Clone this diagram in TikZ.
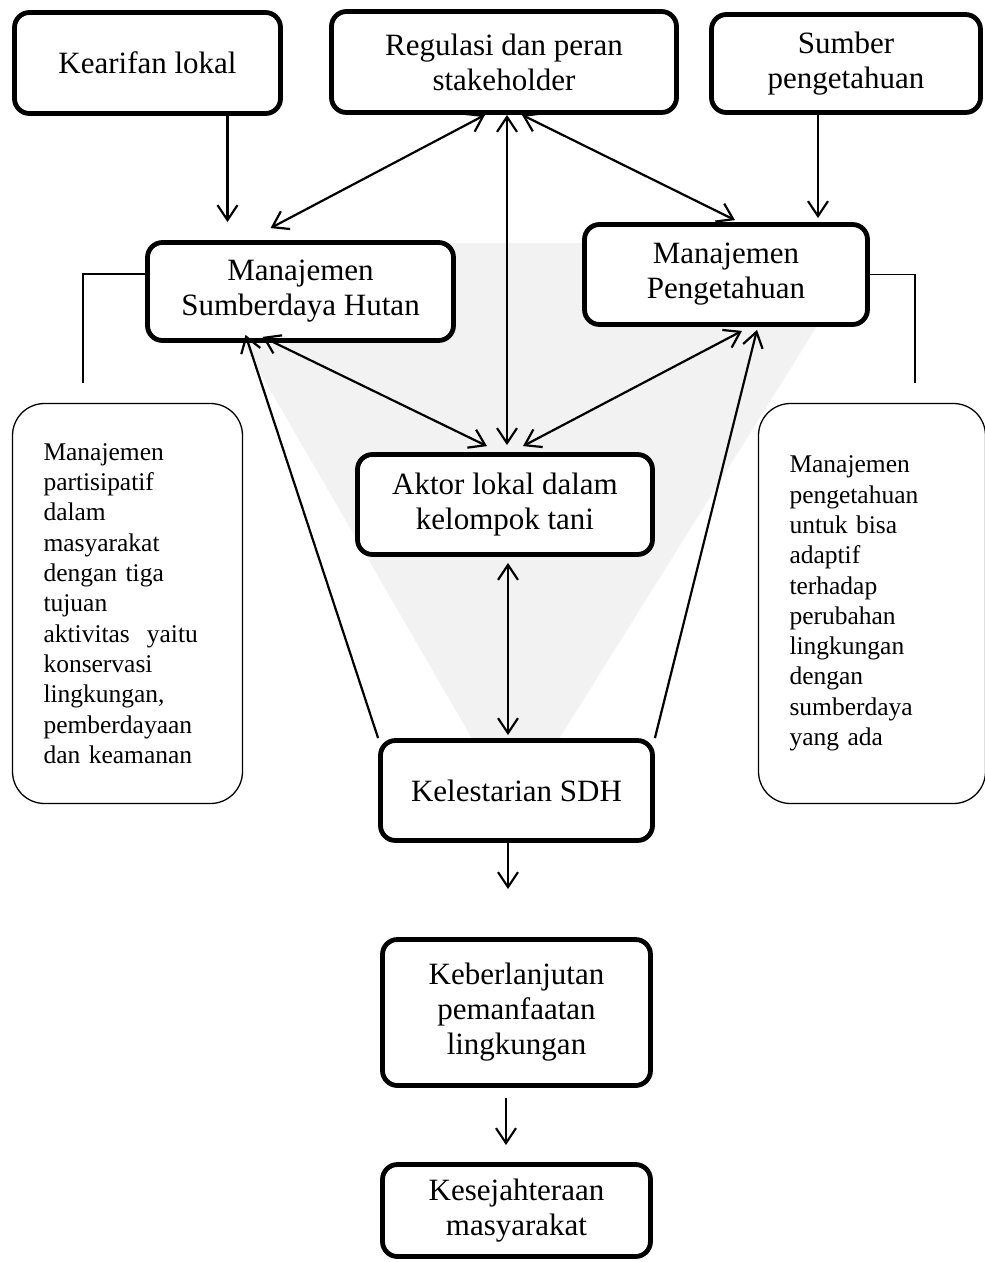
\documentclass[tikz,border=0pt]{standalone}
\usepackage{fontspec}
\setmainfont{Liberation Serif}
\usetikzlibrary{arrows.meta,positioning}
\definecolor{funnelgrey}{HTML}{F2F2F2}

\tikzset{barb/.tip={Straight Barb[length=15pt,width=20pt]}}

\begin{document}
\begin{tikzpicture}[x=1pt,y=-1pt,
        box/.style={draw, line width=4.8pt, rounded corners=15pt, fill=white,
            align=center, inner sep=0pt, font=\fontsize{31}{35}\selectfont},
        note/.style={draw, line width=1.3pt, rounded corners=32pt, fill=white,
            align=left, inner ysep=0pt, inner xsep=31pt, minimum height=400pt,
            font=\fontsize{25.5}{30.3}\selectfont},
        link/.style={line width=2.2pt, -barb},
        both/.style={line width=2.2pt, barb-barb},
        bracket/.style={line width=1.6pt}]

            \useasboundingbox (0,0) rectangle (985,1262);
            \clip (0,0) rectangle (985,1262);

            % grey funnel behind the middle
            \fill[funnelgrey] (185,243) -- (869,243) -- (514,811) -- cycle;

            \node[box, minimum width=266pt, minimum height=101pt] (kearifan) at (147.5,63) {Kearifan lokal};
            \node[box, minimum width=345pt, minimum height=101pt] (regulasi) at (504,62) {Regulasi dan peran\\stakeholder};
            \node[box, minimum width=269pt, minimum height=98pt] (sumber) at (846,63.5) {Sumber\\pengetahuan};

            \node[box, minimum width=306pt, minimum height=98pt] (msh) at (300.5,291.5) {Manajemen\\Sumberdaya Hutan};
            \node[box, minimum width=283pt, minimum height=100pt] (mp) at (726,274.5) {Manajemen\\Pengetahuan};

            \node[box, minimum width=295pt, minimum height=100pt] (aktor) at (505,504.5) {Aktor lokal dalam\\kelompok tani};
            \node[box, minimum width=272pt, minimum height=100pt] (kelestarian) at (516.5,790.5) {Kelestarian SDH};
            \node[box, minimum width=268pt, minimum height=146pt] (keberlanjutan) at (516.5,1012.5) {Keberlanjutan\\pemanfaatan\\lingkungan};
            \node[box, minimum width=268pt, minimum height=92pt] (kesejahteraan) at (516.5,1210.5) {Kesejahteraan\\masyarakat};

            \node[note, text width=168pt] (partisipatif) at (127.5,603.5) {Manajemen\\partisipatif\\dalam\\masyarakat\\dengan tiga\\tujuan\\aktivitas\ \ yaitu\\konservasi\\lingkungan,\\pemberdayaan\\dan keamanan};
            \node[note, text width=165pt] (adaptif) at (872,603.5) {Manajemen\\pengetahuan\\untuk bisa\\adaptif\\terhadap\\perubahan\\lingkungan\\dengan\\sumberdaya\\yang ada};

            \coordinate (lfoot) at (83,383);
            \coordinate (rfoot) at (915,383);
            \draw[bracket] ([yshift=17.5pt]msh.west) -| (lfoot);
            \draw[bracket] (mp.east) -| (rfoot);

            \draw[link] ([xshift=80pt]kearifan.south) -- ([xshift=-73pt,yshift=18pt]msh.north);
            \draw[link] ([xshift=-28pt]sumber.south) -- ([xshift=92pt,yshift=4pt]mp.north);

            \draw[both] ([xshift=-19pt]regulasi.south) -- ([xshift=-30pt,yshift=12pt]msh.north);
            \draw[both] ([xshift=18pt]regulasi.south) -- ([xshift=9pt,yshift=2pt]mp.north);
            \draw[both] ([xshift=3pt]regulasi.south) -- ([xshift=2pt,yshift=7pt]aktor.north);

            \draw[both] ([xshift=-38pt,yshift=6pt]msh.south) -- ([xshift=-18pt,yshift=6pt]aktor.north);
            \draw[both] ([xshift=16pt,yshift=-4pt]mp.south) -- ([xshift=18pt,yshift=6pt]aktor.north);

            \draw[link] (kelestarian.north west) -- ([xshift=-55pt,yshift=8pt]msh.south);
            \draw[link] (kelestarian.north east) -- ([xshift=31pt,yshift=-3pt]mp.south);
            \draw[both] ([xshift=3pt,yshift=-6pt]aktor.south) -- ([xshift=-8.5pt,yshift=3pt]kelestarian.north);

            \draw[link] ([xshift=-8.5pt]kelestarian.south) -- ([xshift=-8.5pt,yshift=48pt]keberlanjutan.north);
            \draw[link] ([xshift=-10.5pt,yshift=-10pt]keberlanjutan.south) -- ([xshift=-10.5pt,yshift=17pt]kesejahteraan.north);
        \end{tikzpicture}
\end{document}
